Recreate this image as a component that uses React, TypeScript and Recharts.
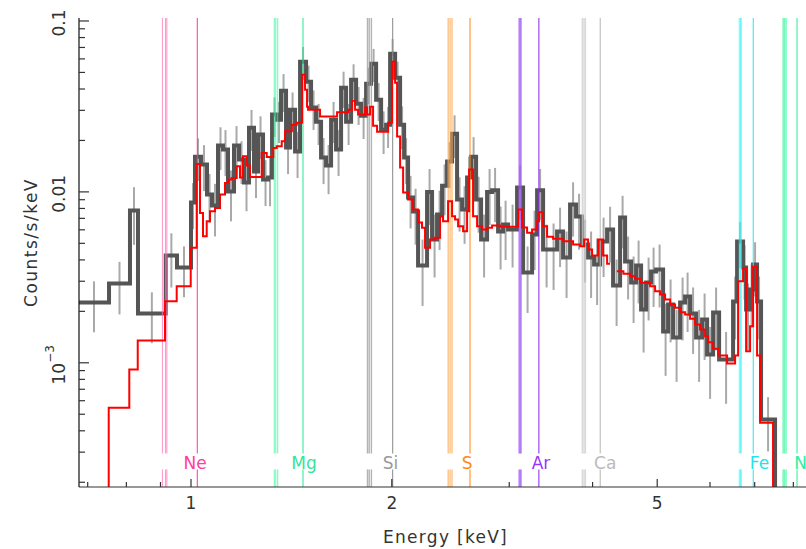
import React from 'react';
import { ComposedChart, Line, Scatter, ErrorBar, XAxis, YAxis, ReferenceLine } from 'recharts';

// ---------------- data ----------------
// observed spectrum: lower bin edges (keV) and counts/s/keV
const binLowEdges = [
  0.6793, 0.7535, 0.8100, 0.8327, 0.9164, 0.9528, 1.0000, 1.0139, 1.0351, 1.0568,
  1.0752, 1.0977, 1.1167, 1.1362, 1.1601, 1.1803, 1.2008, 1.2217, 1.2430, 1.2603,
  1.2823, 1.3046, 1.3228, 1.3458, 1.3645, 1.3883, 1.4077, 1.4322, 1.4571, 1.4876,
  1.5135, 1.5398, 1.5667, 1.5940, 1.6218, 1.6500, 1.6788, 1.7080, 1.7378, 1.7681,
  1.7989, 1.8302, 1.8621, 1.8945, 1.9275, 1.9611, 1.9884, 2.0230, 2.0582, 2.0869,
  2.1156, 2.1524, 2.1899, 2.2590, 2.2983, 2.3384, 2.3791, 2.4206, 2.4627, 2.5056,
  2.5492, 2.5936, 2.6297, 2.6755, 2.7221, 2.7790, 2.8274, 2.8866, 2.9368, 2.9880,
  3.0823, 3.1468, 3.2462, 3.3028, 3.3719, 3.4543, 3.5387, 3.6127, 3.7010, 3.7785,
  3.8577, 3.9385, 4.0210, 4.1052, 4.2056, 4.2937, 4.3987, 4.4753, 4.5690, 4.6485,
  4.7295, 4.8118, 4.8956, 4.9808, 5.1026, 5.1914, 5.2818, 5.4110, 5.5052, 5.6011,
  5.7183, 5.8380, 5.9397, 6.0640, 6.1910, 6.4972, 6.5877, 6.7257, 6.7958, 6.8898,
  6.9616, 7.0582, 7.1563,
];
const binHighEnd = 7.5104;
const floorCount = 1e-5;

const binCounts = [
  2.252e-3, 2.908e-3, 7.777e-3, 1.943e-3, 4.241e-3, 3.608e-3, 8.659e-3, 1.608e-2, 1.444e-2, 9.643e-3,
  8.315e-3, 1.866e-2, 1.768e-2, 1.004e-2, 1.866e-2, 1.545e-2, 1.133e-2, 2.376e-2, 1.315e-2, 2.163e-2,
  1.180e-2, 1.212e-2, 2.832e-2, 2.647e-2, 3.912e-2, 1.816e-2, 3.029e-2, 1.721e-2, 5.780e-2, 4.416e-2,
  3.112e-2, 2.577e-2, 1.587e-2, 1.425e-2, 2.647e-2, 1.768e-2, 4.073e-2, 2.577e-2, 4.536e-2, 3.284e-2,
  2.794e-2, 4.298e-2, 5.627e-2, 3.465e-2, 2.313e-2, 2.474e-2, 6.438e-2, 4.660e-2, 2.474e-2, 1.587e-2,
  9.260e-3, 7.671e-3, 3.707e-3, 1.000e-2, 5.260e-3, 7.367e-3, 1.088e-2, 1.504e-2, 2.192e-2, 9.015e-3,
  7.882e-3, 1.212e-2, 1.608e-2, 9.015e-3, 5.260e-3, 1.000e-2, 1.023e-2, 5.858e-3, 6.438e-3, 6.018e-3,
  1.060e-2, 3.374e-3, 5.626e-3, 1.023e-2, 4.598e-3, 4.598e-3, 5.858e-3, 4.128e-3, 8.428e-3, 7.172e-3,
  4.917e-3, 4.128e-3, 3.757e-3, 5.120e-3, 6.018e-3, 2.831e-3, 7.076e-3, 3.912e-3, 2.948e-3, 3.707e-3,
  2.050e-3, 2.948e-3, 3.420e-3, 3.513e-3, 1.525e-3, 2.193e-3, 1.406e-3, 2.252e-3, 2.442e-3, 1.943e-3,
  1.406e-3, 1.791e-3, 1.118e-3, 1.968e-3, 1.046e-3, 2.283e-3, 5.120e-3, 3.608e-3, 2.050e-3, 2.683e-3,
  3.757e-3, 2.283e-3, 4.660e-4,
];

// relative 1-sigma errors per bin
const binErrFrac = [
  0.33, 0.34, 0.37, 0.33, 0.35, 0.33, 0.30, 0.28, 0.30, 0.32,
  0.34, 0.28, 0.30, 0.33, 0.30, 0.28, 0.32, 0.27, 0.30, 0.28,
  0.30, 0.32, 0.26, 0.27, 0.25, 0.30, 0.26, 0.30, 0.22, 0.24,
  0.26, 0.27, 0.30, 0.32, 0.27, 0.30, 0.24, 0.27, 0.23, 0.25,
  0.27, 0.24, 0.22, 0.25, 0.28, 0.27, 0.22, 0.24, 0.28, 0.30,
  0.34, 0.36, 0.42, 0.36, 0.40, 0.38, 0.33, 0.30, 0.28, 0.35,
  0.37, 0.33, 0.30, 0.36, 0.40, 0.36, 0.35, 0.40, 0.38, 0.40,
  0.35, 0.42, 0.38, 0.33, 0.40, 0.42, 0.38, 0.42, 0.35, 0.36,
  0.40, 0.42, 0.42, 0.38, 0.36, 0.42, 0.34, 0.40, 0.42, 0.40,
  0.44, 0.40, 0.38, 0.40, 0.45, 0.40, 0.45, 0.40, 0.38, 0.42,
  0.45, 0.42, 0.45, 0.40, 0.45, 0.40, 0.30, 0.35, 0.42, 0.40,
  0.35, 0.40, 0.35,
];

// model (folded) spectrum: step starts (keV) and counts/s/keV; null = gap
const modelEnergies = [
  0.6600, 0.7527, 0.8081, 0.8320, 0.9142, 0.9518, 0.9990, 1.0199, 1.0316, 1.0423,
  1.0557, 1.0678, 1.0864, 1.1053, 1.1245, 1.1374, 1.1509, 1.1709, 1.1843, 1.1966,
  1.2133, 1.2259, 1.2764, 1.2987, 1.3286, 1.3444, 1.3678, 1.3835, 1.4159, 1.4406,
  1.4672, 1.4825, 1.4927, 1.4979, 1.5612, 1.6557, 1.7199, 1.7438, 1.7620, 1.7803,
  1.8238, 1.8364, 1.8555, 1.8748, 1.9009, 1.9746, 2.0020, 2.0230, 2.0370, 2.0582,
  2.0797, 2.1156, 2.1524, 2.1899, 2.2201, 2.2433, 2.2824, 2.3221, 2.3627, 2.3872,
  2.4289, 2.4627, 2.4883, 2.5142, 2.5580, 2.5936, 2.6116, 2.6479, 2.6847, 2.7315,
  2.7790, 2.8274, 2.9065, 3.0929, 3.1360, 3.1906, 3.2462, 3.3028, 3.3256, 3.3719,
  3.4187, 3.4903, 3.6127, 3.7395, 3.8311, 3.8843, 3.9385, 3.9933, 4.0768, 4.1478,
  4.2056, 4.2494, 4.2788, 4.3491, 4.4491, 4.5533, 4.6324, 4.7131, 4.8787, 4.9636,
  5.0499, 5.1380, 5.2274, 5.3184, 5.4110, 5.5052, 5.6011, 5.6986, 5.7978, 5.8987,
  5.9602, 6.0640, 6.1697, 6.3641, 6.5424, 6.6105, 6.7257, 6.7958, 6.8898, 6.9616,
  7.0582, 7.1316, 7.4586,
];
const modelCounts: (number | null)[] = [
  1.0e-4, 5.454e-4, 9.136e-4, 1.350e-3, 2.292e-3, 2.805e-3, 4.705e-3, 1.458e-2, 7.537e-3, 5.500e-3,
  6.730e-3, 7.700e-3, 8.060e-3, 9.643e-3, 1.129e-2, 1.180e-2, 1.207e-2, 1.412e-2, 1.212e-2, 1.615e-2,
  1.425e-2, 1.224e-2, 1.691e-2, 1.602e-2, 1.809e-2, 1.848e-2, 1.977e-2, 2.261e-2, 2.474e-2, 2.542e-2,
  4.852e-2, 3.965e-2, 3.154e-2, 3.029e-2, 2.757e-2, 2.920e-2, 3.029e-2, 3.419e-2, 3.029e-2, 2.832e-2,
  3.112e-2, 2.832e-2, 3.154e-2, 2.441e-2, 2.252e-2, 2.542e-2, 5.780e-2, 4.357e-2, 2.106e-2, 1.387e-2,
  9.906e-3, 9.015e-3, 7.882e-3, 6.614e-3, 6.158e-3, 4.705e-3, 5.260e-3, 5.382e-3, 7.172e-3, 6.730e-3,
  8.811e-3, 7.201e-3, 6.887e-3, 6.292e-3, 5.882e-3, 7.700e-3, 1.350e-2, 7.201e-3, 6.292e-3, 6.018e-3,
  6.158e-3, 6.351e-3, 6.242e-3, 7.882e-3, 6.183e-3, 5.757e-3, 6.018e-3, 6.730e-3, 7.599e-3, 6.292e-3,
  5.456e-3, 5.311e-3, 5.141e-3, 4.917e-3, 4.806e-3, 5.260e-3, 4.598e-3, 4.241e-3, 5.260e-3, 4.241e-3,
  3.793e-3, 3.793e-3, null, 3.434e-3, 3.315e-3, 3.210e-3, 3.099e-3, 2.936e-3, 2.805e-3, 2.622e-3,
  2.508e-3, 2.346e-3, 2.193e-3, 2.097e-3, 1.976e-3, 1.916e-3, 1.808e-3, 1.675e-3, 1.566e-3, 1.431e-3,
  1.320e-3, 1.208e-3, 1.103e-3, 9.906e-4, 1.103e-3, 3.000e-3, 3.546e-3, 1.169e-3, 1.637e-3, 3.642e-3,
  1.103e-3, 4.459e-4, 1.0e-5,
];

// emission line identifications
const elementNames = ['Ne', 'Mg', 'Si', 'S', 'Ar', 'Ca', 'Fe', 'Ni'];
const heLikeEnergies = [
  [0.906, 0.916, 0.920],
  [1.333, 1.340, 1.349],
  [1.839, 1.850, 1.864],
  [2.430, 2.446, 2.462],
  [3.104, 3.115, 3.125],
  [3.861, 3.883, 3.902],
  [6.637, 6.668, 6.682],
  [7.722, 7.757, 7.802],
];
const hLikeEnergies = [1.022, 1.472, 2.006, 2.620, 3.323, 4.107, 6.966, 8.102];
const labelEnergies = [1.0146, 1.477, 1.991, 2.594, 3.347, 4.179, 7.117, 8.27];

// axes
const xDomain = [0.6793, 8.357];
const yDomain = [1.876e-4, 0.1041];
const xTicks = [0.7, 0.8, 0.9, 1, 2, 3, 4, 5, 6, 7, 8];
const xLabeledTicks = [1, 2, 5];
const yTicks = [
  2e-4, 3e-4, 4e-4, 5e-4, 6e-4, 7e-4, 8e-4, 9e-4, 1e-3,
  2e-3, 3e-3, 4e-3, 5e-3, 6e-3, 7e-3, 8e-3, 9e-3, 1e-2,
  2e-2, 3e-2, 4e-2, 5e-2, 6e-2, 7e-2, 8e-2, 9e-2, 1e-1,
];
const lineBreakTop = 2.948e-4;
const lineBreakBottom = 2.377e-4;

// ---------------- styles ----------------
const FONT = 'DejaVu Sans';
const INK = '#333';
const elementColors = ['#ff3d9e', '#2eea98', '#8c8c8c', '#ff8a1a', '#8a2cf0', '#b8b8b8', '#2ee6ee', '#33ee99'];
const tripletColors = ['#ff6fb5', '#3cf5a0', '#999999', '#ffad5c', '#a35cf5', '#cccccc', '#40f0f5', '#44f7a3'];
const tripletWidths = [1, 1, 1.4, 1.4, 1.4, 1.4, 1, 1.4];
const labelColors = ['#ff3d9e', '#36e49c', '#999999', '#ff8a1a', '#9933ff', '#bbbbbb', '#22e2ee', '#33ee99'];

// ---------------- derived tables ----------------
const histData = binLowEdges.map((e, i) => ({ E: e, v: binCounts[i] }));
histData.push({ E: binHighEnd, v: floorCount });

const errData = binLowEdges.map((e, i) => {
  const hi = i + 1 < binLowEdges.length ? binLowEdges[i + 1] : binHighEnd;
  return { E: Math.sqrt(e * hi), v: binCounts[i], err: binCounts[i] * binErrFrac[i] };
});

const modelData = modelEnergies.map((e, i) => ({ E: e, v: modelCounts[i] }));

const isDecade = (v: number) => Math.abs(Math.log10(v) - Math.round(Math.log10(v))) < 1e-6;

// ---------------- tick renderers ----------------
const BottomTick = (props: any) => {
  const { x, y, payload } = props;
  const v = payload.value;
  const major = xLabeledTicks.some((t) => Math.abs(t - v) < 1e-9);
  return (
    <g>
      <line x1={x} x2={x} y1={y} y2={y - (major ? 8 : 5)} stroke={INK} strokeWidth={1.2} />
      {major && (
        <text x={x} y={y + 22} textAnchor="middle" fontSize={17} fill={INK} fontFamily={FONT}>
          {String(v)}
        </text>
      )}
    </g>
  );
};

const TopTick = (props: any) => {
  const { x, y, payload } = props;
  const v = payload.value;
  const major = xLabeledTicks.some((t) => Math.abs(t - v) < 1e-9);
  return <line x1={x} x2={x} y1={y} y2={y + (major ? 8 : 5)} stroke={INK} strokeWidth={1.2} />;
};

const LeftTick = (props: any) => {
  const { x, y, payload } = props;
  const v = payload.value;
  const major = isDecade(v);
  const bx = 65;
  const by = y + 2;
  let label: React.ReactNode = null;
  if (major) {
    const exp = Math.round(Math.log10(v));
    label = (
      <text
        x={bx}
        y={by}
        transform={`rotate(-90 ${bx} ${by})`}
        textAnchor="middle"
        fontSize={17}
        fill={INK}
        fontFamily={FONT}
      >
        {exp >= -2 ? (
          String(v)
        ) : (
          <>
            <tspan>10</tspan>
            <tspan dy={-11} fontSize={12}>{`\u2212${-exp}`}</tspan>
          </>
        )}
      </text>
    );
  }
  return (
    <g>
      <line x1={x} x2={x + (major ? 10 : 6)} y1={y} y2={y} stroke={INK} strokeWidth={1.2} />
      {label}
    </g>
  );
};

const RightTick = (props: any) => {
  const { x, y, payload } = props;
  const major = isDecade(payload.value);
  return <line x1={x} x2={x - (major ? 10 : 6)} y1={y} y2={y} stroke={INK} strokeWidth={1.2} />;
};

const XTitle = (props: any) => {
  const vb = props.viewBox || {};
  return (
    <text
      x={vb.x + vb.width / 2 + 3}
      y={vb.y + 56}
      textAnchor="middle"
      fontSize={17}
      letterSpacing={1.3}
      fill={INK}
      fontFamily={FONT}
    >
      Energy [keV]
    </text>
  );
};

const YTitle = (props: any) => {
  const vb = props.viewBox || {};
  const cx = 37;
  const cy = vb.y + vb.height / 2 - 10;
  return (
    <text
      x={cx}
      y={cy}
      transform={`rotate(-90 ${cx} ${cy})`}
      textAnchor="middle"
      fontSize={17}
      letterSpacing={1.5}
      fill={INK}
      fontFamily={FONT}
    >
      Counts/s/keV
    </text>
  );
};

const ElementLabel = (props: any) => {
  const vb = props.viewBox || {};
  return (
    <text
      x={vb.x}
      y={vb.y + vb.height - 18}
      textAnchor="middle"
      fontSize={17}
      fill={props.color}
      fontFamily={FONT}
    >
      {props.text}
    </text>
  );
};

// ---------------- chart ----------------
export default function App() {
  const lines: React.ReactNode[] = [];
  elementNames.forEach((name, gi) => {
    const group = [
      ...heLikeEnergies[gi].map((e) => ({ e, color: tripletColors[gi], w: tripletWidths[gi], op: 0.75 })),
      { e: hLikeEnergies[gi], color: elementColors[gi], w: 1.1, op: 0.95 },
    ];
    group.forEach((ln, li) => {
      lines.push(
        <ReferenceLine
          key={`${name}-a-${li}`}
          xAxisId="b"
          yAxisId="l"
          ifOverflow="visible"
          segment={[{ x: ln.e, y: yDomain[1] }, { x: ln.e, y: lineBreakTop }]}
          stroke={ln.color}
          strokeWidth={ln.w}
          strokeOpacity={ln.op}
        />,
        <ReferenceLine
          key={`${name}-b-${li}`}
          xAxisId="b"
          yAxisId="l"
          ifOverflow="visible"
          segment={[{ x: ln.e, y: lineBreakBottom }, { x: ln.e, y: yDomain[0] }]}
          stroke={ln.color}
          strokeWidth={ln.w}
          strokeOpacity={ln.op}
        />
      );
    });
    lines.push(
      <ReferenceLine
        key={`${name}-label`}
        xAxisId="b"
        yAxisId="l"
        x={labelEnergies[gi]}
        ifOverflow="visible"
        stroke="none"
        label={<ElementLabel text={name} color={labelColors[gi]} />}
      />
    );
  });

  return (
    <div style={{ position: 'absolute', left: 0, top: 0, width: 806, height: 549, background: '#fff' }}>
      <ComposedChart width={806} height={549} margin={{ top: 18, right: 0, bottom: 0, left: 0 }}>
        <XAxis
          xAxisId="b"
          dataKey="E"
          type="number"
          scale="log"
          domain={xDomain}
          allowDataOverflow
          ticks={xTicks}
          interval={0}
          tick={<BottomTick />}
          tickLine={false}
          tickSize={0}
          tickMargin={0}
          height={62}
          axisLine={{ stroke: INK, strokeWidth: 1.2 }}
          label={<XTitle />}
        />
        <XAxis
          xAxisId="t"
          orientation="top"
          dataKey="E"
          type="number"
          scale="log"
          domain={xDomain}
          allowDataOverflow
          ticks={xTicks}
          interval={0}
          tick={<TopTick />}
          tickLine={false}
          tickSize={0}
          tickMargin={0}
          height={0}
          axisLine={{ stroke: INK, strokeWidth: 1.2 }}
        />
        <YAxis
          yAxisId="l"
          type="number"
          scale="log"
          domain={yDomain}
          allowDataOverflow
          ticks={yTicks}
          interval={0}
          tick={<LeftTick />}
          tickLine={false}
          tickSize={0}
          tickMargin={0}
          width={79}
          axisLine={{ stroke: '#111', strokeWidth: 1.2 }}
          label={<YTitle />}
        />
        <YAxis
          yAxisId="r"
          orientation="right"
          type="number"
          scale="log"
          domain={yDomain}
          allowDataOverflow
          ticks={yTicks}
          interval={0}
          tick={<RightTick />}
          tickLine={false}
          tickSize={0}
          tickMargin={0}
          width={0}
          axisLine={false}
        />
        <Scatter
          xAxisId="b"
          yAxisId="l"
          data={errData}
          dataKey="v"
          isAnimationActive={false}
          shape={() => <g />}
        >
          <ErrorBar dataKey="err" direction="y" width={0} stroke="#a9a9a9" strokeWidth={2} isAnimationActive={false} />
        </Scatter>
        <Line
          xAxisId="b"
          yAxisId="l"
          data={histData}
          dataKey="v"
          type="stepAfter"
          stroke="#555555"
          strokeWidth={4}
          strokeLinejoin="miter"
          dot={false}
          activeDot={false}
          isAnimationActive={false}
        />
        {lines}
        <Line
          xAxisId="b"
          yAxisId="l"
          data={modelData}
          dataKey="v"
          type="stepAfter"
          stroke="#ff0000"
          strokeWidth={2}
          dot={false}
          activeDot={false}
          connectNulls={false}
          isAnimationActive={false}
        />
      </ComposedChart>
    </div>
  );
}
